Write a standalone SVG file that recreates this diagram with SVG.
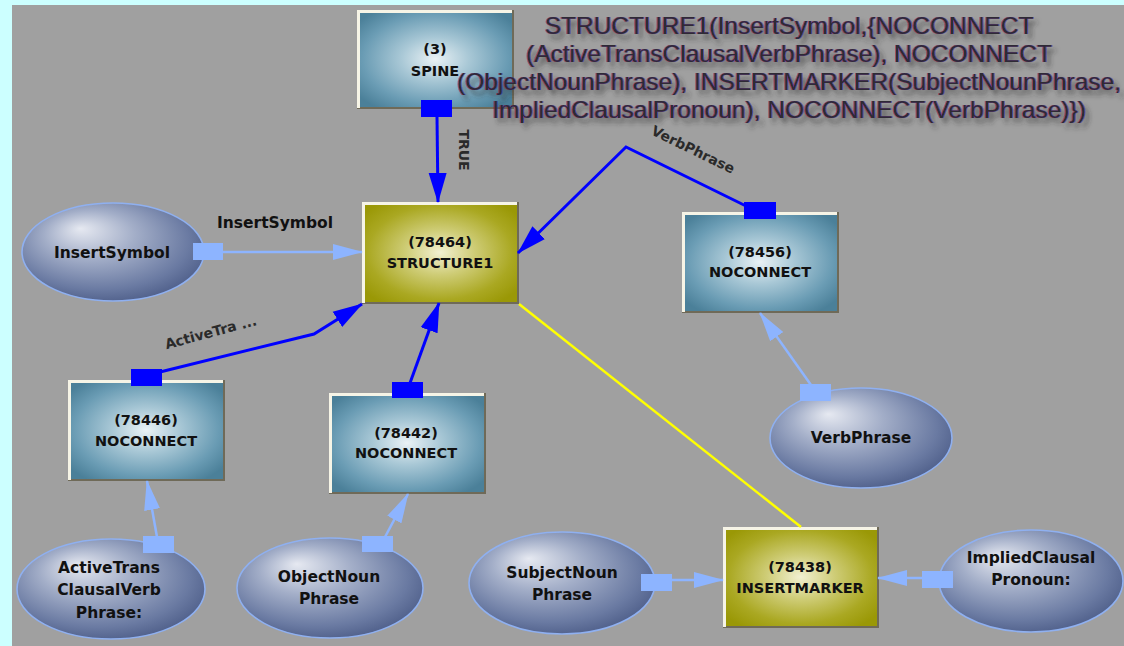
<svg xmlns="http://www.w3.org/2000/svg" width="1124" height="646" viewBox="0 0 1124 646">
  <defs>
    <style>
      .lbl { font-family: "DejaVu Sans", "Liberation Sans", sans-serif; font-weight: bold; font-size: 14.5px; fill: #111; text-anchor: middle; }
      .elbl { font-family: "DejaVu Sans", "Liberation Sans", sans-serif; font-weight: bold; font-size: 15.5px; fill: #111; text-anchor: middle; }
      .clbl { font-family: "DejaVu Sans", "Liberation Sans", sans-serif; font-weight: bold; font-size: 14px; fill: #2a2a2a; text-anchor: middle; }
      .title { font-family: "Liberation Sans", Arial, sans-serif; font-size: 24.5px; fill: #2e2a36; text-anchor: middle; }
      .hi { fill: none; stroke: #f6f4e6; stroke-width: 3; }
      .lo { fill: none; stroke: #6f6a58; stroke-width: 2; }
      .ell { stroke: #8fb0f0; stroke-width: 1.6; fill: url(#gEll); }
      .dark { fill: none; stroke: #0000ff; stroke-width: 3; marker-end: url(#ahDark); }
      .light { fill: none; stroke: #8db4ff; stroke-width: 2.5; marker-end: url(#ahLight); }
      .pd { fill: #0000ff; }
      .pl { fill: #8db4ff; }
    </style>
    <radialGradient id="gBlue" cx="0.5" cy="0.5" r="0.62">
      <stop offset="0" stop-color="#eaf2f5"/>
      <stop offset="0.35" stop-color="#a9c8d6"/>
      <stop offset="0.75" stop-color="#6a9cb4"/>
      <stop offset="1" stop-color="#4b8099"/>
    </radialGradient>
    <radialGradient id="gOlive" cx="0.5" cy="0.5" r="0.62">
      <stop offset="0" stop-color="#f2f0d2"/>
      <stop offset="0.35" stop-color="#cfcd78"/>
      <stop offset="0.75" stop-color="#aaa822"/>
      <stop offset="1" stop-color="#9a9806"/>
    </radialGradient>
    <radialGradient id="gEll" cx="0.45" cy="0.42" r="0.62" fx="0.32" fy="0.26">
      <stop offset="0" stop-color="#e6e9f1"/>
      <stop offset="0.4" stop-color="#a3aec8"/>
      <stop offset="0.8" stop-color="#6a7aa2"/>
      <stop offset="1" stop-color="#4d5d88"/>
    </radialGradient>
    <marker id="ahDark" markerUnits="userSpaceOnUse" viewBox="0 0 30 20" markerWidth="30" markerHeight="20" refX="29" refY="10" orient="auto">
      <path d="M0,1 L30,10 L0,19 Z" fill="#0000ff"/>
    </marker>
    <marker id="ahLight" markerUnits="userSpaceOnUse" viewBox="0 0 30 18" markerWidth="30" markerHeight="18" refX="29" refY="9" orient="auto">
      <path d="M0,1 L30,9 L0,17 Z" fill="#8db4ff"/>
    </marker>
    <!-- soft drop shadow with a faint red/blue colour fringe -->
    <filter id="titleFx" x="-5%" y="-30%" width="112%" height="170%">
      <feGaussianBlur in="SourceAlpha" stdDeviation="2.6" result="b"/>
      <feOffset in="b" dx="4" dy="5" result="sh"/>
      <feFlood flood-color="#2e2e2e" flood-opacity="0.75"/>
      <feComposite in2="sh" operator="in" result="shadow"/>
      <feOffset in="SourceAlpha" dx="-0.6" result="ra"/>
      <feFlood flood-color="#a01020" flood-opacity="0.55"/>
      <feComposite in2="ra" operator="in" result="red"/>
      <feOffset in="SourceAlpha" dx="0.6" result="ba"/>
      <feFlood flood-color="#1a2aa8" flood-opacity="0.55"/>
      <feComposite in2="ba" operator="in" result="blue"/>
      <feMerge>
        <feMergeNode in="shadow"/>
        <feMergeNode in="red"/>
        <feMergeNode in="blue"/>
        <feMergeNode in="SourceGraphic"/>
      </feMerge>
    </filter>
  </defs>

  <!-- canvas -->
  <rect x="0" y="0" width="1124" height="646" fill="#ccffff"/>
  <rect x="12" y="5" width="1112" height="641" fill="#a0a0a0"/>

  <!-- rule nodes -->
  <g id="node-spine">
    <rect x="357" y="10" width="156" height="98" fill="url(#gBlue)"/>
    <path class="lo" d="M513,10 V108 H357"/>
    <path class="hi" d="M358.5,108 V11.5 H512"/>
    <text class="lbl" x="435" y="54">(3)</text>
    <text class="lbl" x="435" y="76">SPINE</text>
  </g>

  <g id="node-78464">
    <rect x="362" y="202" width="156" height="101" fill="url(#gOlive)"/>
    <path class="lo" d="M518,202 V303 H362"/>
    <path class="hi" d="M363.5,303 V203.5 H517"/>
    <text class="lbl" x="440" y="247">(78464)</text>
    <text class="lbl" x="440" y="268">STRUCTURE1</text>
  </g>

  <g id="node-78456">
    <rect x="682" y="212" width="156" height="100" fill="url(#gBlue)"/>
    <path class="lo" d="M838,212 V312 H682"/>
    <path class="hi" d="M683.5,312 V213.5 H837"/>
    <text class="lbl" x="760" y="257">(78456)</text>
    <text class="lbl" x="760" y="277">NOCONNECT</text>
  </g>

  <g id="node-78446">
    <rect x="68" y="380" width="156" height="100" fill="url(#gBlue)"/>
    <path class="lo" d="M224,380 V480 H68"/>
    <path class="hi" d="M69.5,480 V381.5 H223"/>
    <text class="lbl" x="146" y="425">(78446)</text>
    <text class="lbl" x="146" y="446">NOCONNECT</text>
  </g>

  <g id="node-78442">
    <rect x="329" y="393" width="156" height="100" fill="url(#gBlue)"/>
    <path class="lo" d="M485,393 V493 H329"/>
    <path class="hi" d="M330.5,493 V394.5 H484"/>
    <text class="lbl" x="406" y="438">(78442)</text>
    <text class="lbl" x="406" y="458">NOCONNECT</text>
  </g>

  <g id="node-78438">
    <rect x="723" y="527" width="155" height="100" fill="url(#gOlive)"/>
    <path class="lo" d="M878,527 V627 H723"/>
    <path class="hi" d="M724.5,627 V528.5 H877"/>
    <text class="lbl" x="800" y="572">(78438)</text>
    <text class="lbl" x="800" y="593">INSERTMARKER</text>
  </g>

  <!-- input symbols -->
  <g id="sym-insertsymbol">
    <ellipse class="ell" cx="113" cy="252" rx="91" ry="49"/>
    <text class="elbl" x="112" y="258">InsertSymbol</text>
  </g>

  <g id="sym-verbphrase">
    <ellipse class="ell" cx="861" cy="438" rx="91" ry="50"/>
    <text class="elbl" x="861" y="443">VerbPhrase</text>
  </g>

  <g id="sym-activetrans">
    <ellipse class="ell" cx="111" cy="589" rx="94" ry="50"/>
    <text class="elbl" x="109" y="573">ActiveTrans</text>
    <text class="elbl" x="109" y="595">ClausalVerb</text>
    <text class="elbl" x="109" y="618">Phrase:</text>
  </g>

  <g id="sym-objectnoun">
    <ellipse class="ell" cx="330" cy="588" rx="93" ry="50"/>
    <text class="elbl" x="329" y="582">ObjectNoun</text>
    <text class="elbl" x="329" y="604">Phrase</text>
  </g>

  <g id="sym-subjectnoun">
    <ellipse class="ell" cx="562" cy="583" rx="93" ry="51"/>
    <text class="elbl" x="562" y="578">SubjectNoun</text>
    <text class="elbl" x="562" y="600">Phrase</text>
  </g>

  <g id="sym-impliedclausal">
    <ellipse class="ell" cx="1031" cy="581" rx="92" ry="51"/>
    <text class="elbl" x="1031" y="563">ImpliedClausal</text>
    <text class="elbl" x="1031" y="585">Pronoun:</text>
  </g>

  <!-- connectors -->
  <g id="connectors">
    <path d="M519,304 L801,527" fill="none" stroke="#ffff00" stroke-width="2.5"/>

    <path class="dark" d="M437,117 L438,202"/>
    <path class="dark" d="M746,206 L626,147 L518,253"/>
    <path class="dark" d="M160,372 L314,334 L362,304"/>
    <path class="dark" d="M410,383 L439,303"/>

    <path class="light" d="M223,252 L362,252"/>
    <path class="light" d="M157,537 L147,481"/>
    <path class="light" d="M385,537 L408,494"/>
    <path class="light" d="M811,385 L760,313"/>
    <path class="light" d="M672,580 L723,580"/>
    <path class="light" d="M922,578 L878,578"/>

    <rect class="pd" x="421" y="100" width="31" height="17"/>
    <rect class="pd" x="744" y="202" width="32" height="17"/>
    <rect class="pd" x="131" y="369" width="31" height="17"/>
    <rect class="pd" x="392" y="382" width="31" height="16"/>

    <rect class="pl" x="193" y="243" width="30" height="17"/>
    <rect class="pl" x="143" y="536" width="31" height="17"/>
    <rect class="pl" x="362" y="536" width="31" height="16"/>
    <rect class="pl" x="800" y="384" width="31" height="17"/>
    <rect class="pl" x="641" y="574" width="31" height="17"/>
    <rect class="pl" x="922" y="571" width="31" height="17"/>

    <text class="clbl" transform="translate(459,150) rotate(90)">TRUE</text>
    <text class="elbl" x="275" y="228">InsertSymbol</text>
    <text class="clbl" transform="translate(212,337) rotate(-15)">ActiveTra ...</text>
    <text class="clbl" transform="translate(691,154) rotate(26)">VerbPhrase</text>
  </g>

  <!-- rule expression -->
  <g id="expression" filter="url(#titleFx)">
    <text class="title" x="789" y="34">STRUCTURE1(InsertSymbol,{NOCONNECT</text>
    <text class="title" x="789" y="62">(ActiveTransClausalVerbPhrase), NOCONNECT</text>
    <text class="title" x="789" y="90">(ObjectNounPhrase), INSERTMARKER(SubjectNounPhrase,</text>
    <text class="title" x="789" y="118">ImpliedClausalPronoun), NOCONNECT(VerbPhrase)})</text>
  </g>
</svg>
